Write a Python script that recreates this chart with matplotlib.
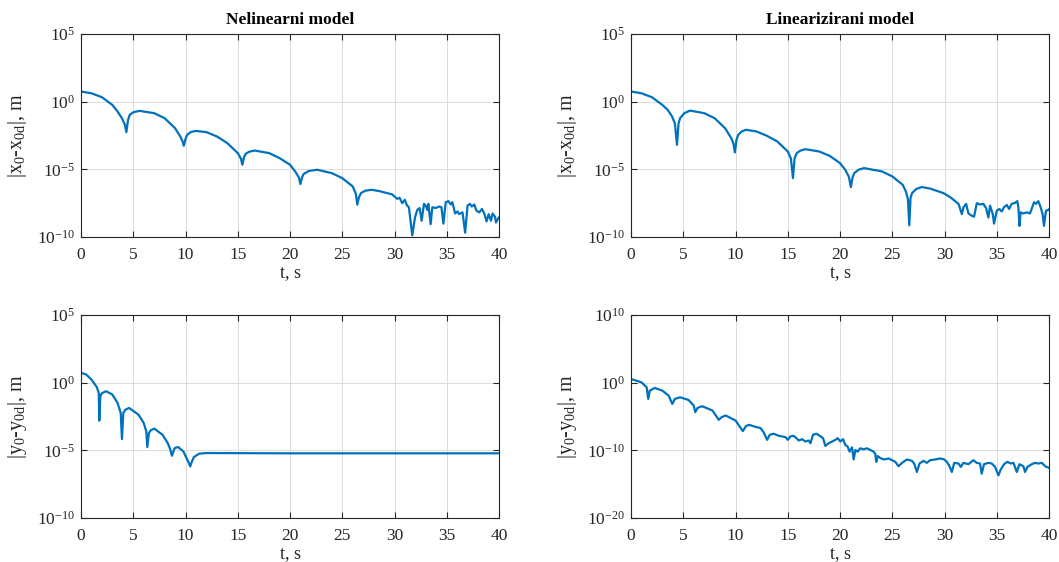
import numpy as np
import matplotlib
matplotlib.use("Agg")
import matplotlib.pyplot as plt
from matplotlib.ticker import FuncFormatter, NullLocator

plt.rcParams['font.family'] = ['Liberation Serif', 'DejaVu Serif']
plt.rcParams['mathtext.fontset'] = 'custom'
plt.rcParams['mathtext.rm'] = 'Liberation Serif'
plt.rcParams['mathtext.it'] = 'Liberation Serif:italic'
plt.rcParams['axes.unicode_minus'] = False

# error magnitudes, stored as log10 exponents
# x error, nonlinear model
t_x_nl = [0, 1, 2, 3, 3.5, 3.9, 4.2, 4.34, 4.5, 4.66, 5.0, 5.6, 7, 8, 9, 9.5, 9.7, 9.84, 10.0,
          10.16, 10.5, 10.97, 12, 13, 14, 15, 15.3, 15.44, 15.6, 15.76, 16.1, 16.6, 18, 19, 20, 20.5,
          20.85, 21.0, 21.15, 21.3, 21.8, 22.6, 24, 25, 26, 26.3, 26.44, 26.6, 26.8, 27.2, 27.8,
          28.49, 29.78, 30.26, 30.48, 30.74, 30.99, 31.19, 31.38, 31.70, 31.96, 32.18, 32.40, 32.60,
          32.82, 32.98, 33.14, 33.24, 33.46, 33.62, 33.94, 34.26, 34.49, 34.68, 34.90, 35.16, 35.38,
          35.54, 35.80, 36.03, 36.19, 36.51, 36.76, 36.99, 37.21, 37.40, 37.63, 37.85, 38.11, 38.37,
          38.59, 38.81, 39.01, 39.23, 39.39, 39.62, 39.71, 39.94, 40]
exp_x_nl = [0.75, 0.62, 0.33, -0.24, -0.73, -1.2, -1.7, -2.25, -1.35, -0.98, -0.78, -0.68, -0.85,
            -1.22, -1.96, -2.57, -2.9, -3.26, -2.75, -2.45, -2.25, -2.16, -2.25, -2.57, -3.06, -3.80,
            -4.2, -4.66, -4.1, -3.85, -3.7, -3.61, -3.80, -4.17, -4.66, -5.16, -5.6, -6.09, -5.6,
            -5.35, -5.12, -5.03, -5.28, -5.65, -6.26, -6.8, -7.61, -7.05, -6.75, -6.58, -6.51,
            -6.60, -6.85, -7.18, -7.10, -7.50, -7.25, -7.66, -7.80, -9.88, -8.56, -8.00, -7.86, -8.80,
            -7.55, -7.68, -8.00, -7.55, -9.05, -7.80, -7.86, -7.75, -7.80, -9.01, -7.43, -7.35, -7.60,
            -7.43, -8.26, -8.11, -8.31, -8.18, -9.68, -7.68, -7.55, -7.75, -7.60, -8.06, -8.18, -7.93,
            -8.26, -8.85, -8.31, -8.80, -8.26, -8.51, -8.93, -8.60, -8.55]

# x error, linearized model
t_x_lin = [0, 1, 2, 3, 3.5, 3.9, 4.2, 4.4, 4.55, 4.7, 5.1, 5.66, 7, 8, 9, 9.6, 9.8, 9.94, 10.1,
           10.26, 10.6, 11.0, 12, 13, 14, 15, 15.3, 15.5, 15.65, 15.86, 16.2, 16.67, 18, 19, 20, 20.5,
           20.85, 21.04, 21.2, 21.36, 21.8, 22.3, 24, 25, 26, 26.3, 26.5, 26.63, 26.75, 26.9, 27.3, 27.83,
           28.63, 29.9, 30.54, 31.34, 31.66, 31.82, 32.07, 32.29, 32.61, 32.83, 33.09, 33.4, 33.72,
           33.98, 34.2, 34.36, 34.62, 34.74, 35.0, 35.25, 35.48, 35.7, 35.96, 36.18, 36.43, 36.75,
           36.97, 37.07, 37.17, 37.29, 37.55, 37.87, 38.18, 38.34, 38.57, 38.76, 38.98, 39.2, 39.39,
           39.52, 39.71, 39.94, 40]
exp_x_lin = [0.75, 0.62, 0.33, -0.24, -0.6, -1.05, -1.6, -3.19, -1.6, -1.22, -0.85, -0.66, -0.85,
             -1.22, -1.96, -2.70, -3.1, -3.75, -2.8, -2.45, -2.2, -2.08, -2.2, -2.52, -2.94, -3.68,
             -4.2, -5.65, -4.2, -3.8, -3.62, -3.51, -3.68, -4.0, -4.54, -5.03, -5.55, -6.31, -5.6,
             -5.28, -5.02, -4.91, -5.15, -5.52, -6.14, -6.63, -7.2, -9.14, -7.1, -6.75, -6.45, -6.31,
             -6.42, -6.76, -7.05, -7.55, -8.31, -7.8, -7.55, -8.26, -8.43, -8.5, -7.5, -7.6, -7.55,
             -7.86, -8.56, -7.68, -8.31, -9.01, -8.06, -7.93, -8.11, -7.8, -7.63, -7.93, -7.55, -7.48,
             -7.35, -7.8, -9.18, -8.18, -8.26, -8.18, -8.26, -7.93, -7.43, -7.55, -7.35, -7.8, -8.31,
             -9.18, -8.06, -8.0, -7.95]

# y error, nonlinear model
t_y_nl = [0, 0.5, 1, 1.5, 1.7, 1.75, 1.85, 2.0, 2.4, 3, 3.5, 3.8, 3.92, 4.05, 4.25, 4.6, 5.5, 6,
          6.25, 6.34, 6.5, 6.7, 7.02, 7.8, 8.3, 8.55, 8.7, 8.96, 9.3, 9.8, 10.1, 10.3, 10.45, 10.6,
          10.8, 11.3, 11.94, 20, 30, 40]
exp_y_nl = [0.73, 0.60, 0.23, -0.31, -0.76, -2.81, -1.0, -0.78, -0.63, -0.88, -1.5, -2.24, -4.17,
            -2.24, -2.0, -1.87, -2.36, -2.98, -3.6, -4.76, -3.72, -3.5, -3.40, -3.85, -4.46, -4.95,
            -5.40, -4.83, -4.76, -5.08, -5.58, -5.9, -6.19, -5.85, -5.5, -5.25, -5.2, -5.22, -5.22,
            -5.22]

# y error, linearized model
t_y_lin = [0, 1, 1.5, 1.65, 1.8, 2.27, 3, 3.6, 3.95, 4.2, 4.7, 5.5, 6, 6.15, 6.37, 6.8, 7.8, 8.4,
           8.67, 9.06, 10, 10.7, 11.0, 11.3, 12,
           12.39, 12.70, 13.02, 13.28, 13.66, 14.14, 14.78, 15.0, 15.25, 15.57, 15.83, 16.05, 16.37,
           16.69, 17.0, 17.17, 17.42, 17.74, 18.06, 18.38, 18.6, 18.92, 19.24, 19.56, 19.78, 20.03,
           20.29, 20.51, 20.73, 20.92, 21.15, 21.31, 21.47, 21.69, 21.94, 22.26, 22.58, 22.9, 23.22,
           23.38, 23.47, 23.6, 23.92, 24.24, 24.66, 24.97, 25.29, 25.61, 25.93, 26.41, 26.88, 27.1,
           27.36, 27.61, 27.99, 28.31, 28.63, 29.11, 29.59, 29.97, 30.22, 30.48, 30.7, 30.93, 31.34,
           31.56, 31.81, 32.29, 32.76, 33.08, 33.4, 33.56, 33.78, 34.2, 34.52, 34.84, 35.16, 35.38,
           35.7, 36.02, 36.34, 36.6, 36.92, 37.17, 37.55, 37.71, 37.94, 38.35, 38.67, 38.99, 39.31,
           39.63, 39.95, 40]
exp_y_lin = [0.54, 0.05, -0.69, -2.4, -1.18, -0.78, -1.18, -1.91, -3.14, -2.40, -2.16, -2.55, -3.38,
             -4.36, -3.73, -3.48, -4.12, -5.49, -5.10, -4.85, -5.59, -7.16, -6.42, -6.23, -6.57,
             -6.70, -7.35, -8.45, -7.70, -7.55, -7.85, -8.05, -8.45, -7.95, -7.85, -8.2, -8.55, -8.35,
             -8.7, -8.55, -8.95, -7.7, -7.55, -7.85, -8.2, -9.35, -8.95, -8.7, -8.45, -8.2, -8.7,
             -8.35, -9.2, -9.45, -10.2, -9.55, -11.35, -9.95, -10.2, -9.7, -9.85, -9.7, -9.95, -10.2,
             -10.55, -11.7, -10.85, -11.2, -11.35, -11.2, -11.45, -11.7, -12.35, -11.85, -11.35, -11.55,
             -11.95, -13.2, -11.95, -11.55, -11.85, -11.45, -11.35, -11.2, -11.35, -11.7, -12.35, -13.2,
             -11.85, -11.95, -12.45, -11.85, -12.05, -11.45, -11.85, -11.95, -13.45, -12.05, -11.85,
             -11.95, -12.45, -13.7, -12.85, -12.05, -11.7, -11.95, -11.85, -13.2, -12.05, -12.35, -13.2,
             -12.45, -12.05, -11.85, -11.95, -11.85, -12.35, -12.55, -12.6]

blue = '#0072BD'
dark = '#262626'
fig = plt.figure(figsize=(10.59, 5.62), dpi=100)

xlab_x = r'|x$_{\mathrm{0}}$-x$_{\mathrm{0d}}$|, m'
ylab_y = r'|y$_{\mathrm{0}}$-y$_{\mathrm{0d}}$|, m'
panels = [
    ([81/1059, 1-237/562, 418/1059, 203/562], t_x_nl, exp_x_nl, xlab_x, (-10, 5), 'Nelinearni model'),
    ([631/1059, 1-237/562, 418/1059, 203/562], t_x_lin, exp_x_lin, xlab_x, (-10, 5), 'Linearizirani model'),
    ([81/1059, 1-518/562, 418/1059, 203/562], t_y_nl, exp_y_nl, ylab_y, (-10, 5), None),
    ([631/1059, 1-518/562, 418/1059, 203/562], t_y_lin, exp_y_lin, ylab_y, (-20, 10), None),
]

for rect, t, e, ylab, (lo, hi), title in panels:
    ax = fig.add_axes(rect)
    ax.plot(t, 10.0 ** np.array(e), color=blue, linewidth=1.6)
    ax.set_yscale('log')
    ax.set_xlim(0, 40)
    ax.set_ylim(10.0 ** lo, 10.0 ** hi)
    step = (hi - lo) // 3
    ax.set_yticks([10.0 ** k for k in range(lo, hi + 1, step)])
    ax.yaxis.set_minor_locator(NullLocator())
    ax.yaxis.set_major_formatter(FuncFormatter(lambda v, p: r'$10^{%d}$' % round(np.log10(v))))
    ax.set_xticks(range(0, 41, 5))
    ax.grid(True, color='#dcdcdc', linewidth=0.7)
    ax.set_axisbelow(True)
    ax.tick_params(direction='in', top=True, right=True, length=4, width=0.8,
                   labelsize=12.5, colors=dark)
    ax.tick_params(axis='x', pad=7)
    ax.tick_params(axis='y', pad=4)
    for s in ax.spines.values():
        s.set_linewidth(0.8)
        s.set_color(dark)
    ax.set_xlabel('t, s', fontsize=13, color=dark, labelpad=1)
    ax.set_ylabel(ylab, fontsize=14.5, color=dark, labelpad=6)
    if title:
        ax.set_title(title, fontsize=12.5, fontweight='bold', pad=7)

fig.savefig('out.png', dpi=100)
